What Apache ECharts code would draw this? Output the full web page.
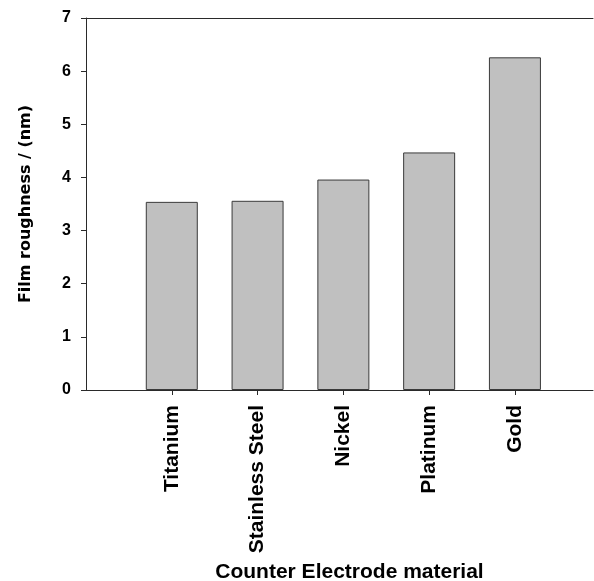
<!DOCTYPE html>
<html>
<head>
<meta charset="utf-8">
<script src="https://cdn.jsdelivr.net/npm/echarts@6/dist/echarts.min.js"></script>
<style>
  html, body { margin: 0; padding: 0; background: #ffffff; }
  #chart { width: 594px; height: 581px; }
</style>
</head>
<body>
<div id="chart"></div>
<script>
// Counter electrode materials and measured film roughness (nm)
const categories = ['Titanium', 'Stainless Steel', 'Nickel', 'Platinum', 'Gold'];
const roughness = [3.54, 3.56, 3.96, 4.47, 6.26];
const yTicks = [0, 1, 2, 3, 4, 5, 6, 7];

// Each material sits at position 1..n on a numeric x axis
const positions = categories.map((_, i) => i + 1);
const barData = positions.map((p, i) => [p, roughness[i]]);

const boldFont = 'Liberation Sans, Arial, sans-serif';

const chart = echarts.init(document.getElementById('chart'), null, { renderer: 'canvas' });
chart.setOption({
  animation: false,
  backgroundColor: '#ffffff',
  grid: { left: 86, right: 1, top: 18, bottom: 191, outerBoundsMode: 'none', containLabel: false },
  xAxis: [
    {
      type: 'value',
      position: 'bottom',
      min: 0,
      max: 5.91,
      splitLine: { show: false },
      axisLine: { show: true, lineStyle: { color: '#2a2a2a', width: 1 } },
      axisTick: { show: true, length: 5, customValues: positions, lineStyle: { color: '#2a2a2a' } },
      axisLabel: {
        customValues: positions,
        rotate: 90,
        margin: 15,
        color: '#000',
        fontFamily: boldFont,
        fontWeight: 'bold',
        fontSize: 21,
        formatter: v => categories[Math.round(v) - 1] || ''
      },
      name: 'Counter Electrode material',
      nameLocation: 'middle',
      nameGap: 172,
      nameTextStyle: {
        color: '#000',
        fontFamily: boldFont,
        fontWeight: 'bold',
        fontSize: 21,
        padding: [0, 0, 0, 20]
      }
    },
    {
      type: 'value',
      position: 'top',
      min: 0,
      max: 5.91,
      splitLine: { show: false },
      axisLine: { show: true, lineStyle: { color: '#2a2a2a', width: 1 } },
      axisTick: { show: false },
      axisLabel: { show: false }
    }
  ],
  yAxis: {
    type: 'value',
    min: yTicks[0],
    max: yTicks[yTicks.length - 1],
    interval: 1,
    splitLine: { show: false },
    axisLine: { show: true, lineStyle: { color: '#2a2a2a', width: 1 } },
    axisTick: { show: true, length: 5, lineStyle: { color: '#2a2a2a' } },
    axisLabel: {
      margin: 15,
      color: '#000',
      fontFamily: boldFont,
      fontWeight: 'bold',
      fontSize: 16
    },
    name: 'Film roughness / (nm)',
    nameLocation: 'middle',
    nameGap: 52,
    nameTextStyle: {
      color: '#000',
      fontFamily: 'DejaVu Sans, Verdana, sans-serif',
      fontWeight: 'bold',
      fontSize: 16
    }
  },
  series: [
    {
      type: 'bar',
      xAxisIndex: 0,
      data: barData,
      barWidth: 52,
      itemStyle: { color: '#c0c0c0', borderColor: '#3a3a3a', borderWidth: 1 }
    }
  ]
});
</script>
</body>
</html>
